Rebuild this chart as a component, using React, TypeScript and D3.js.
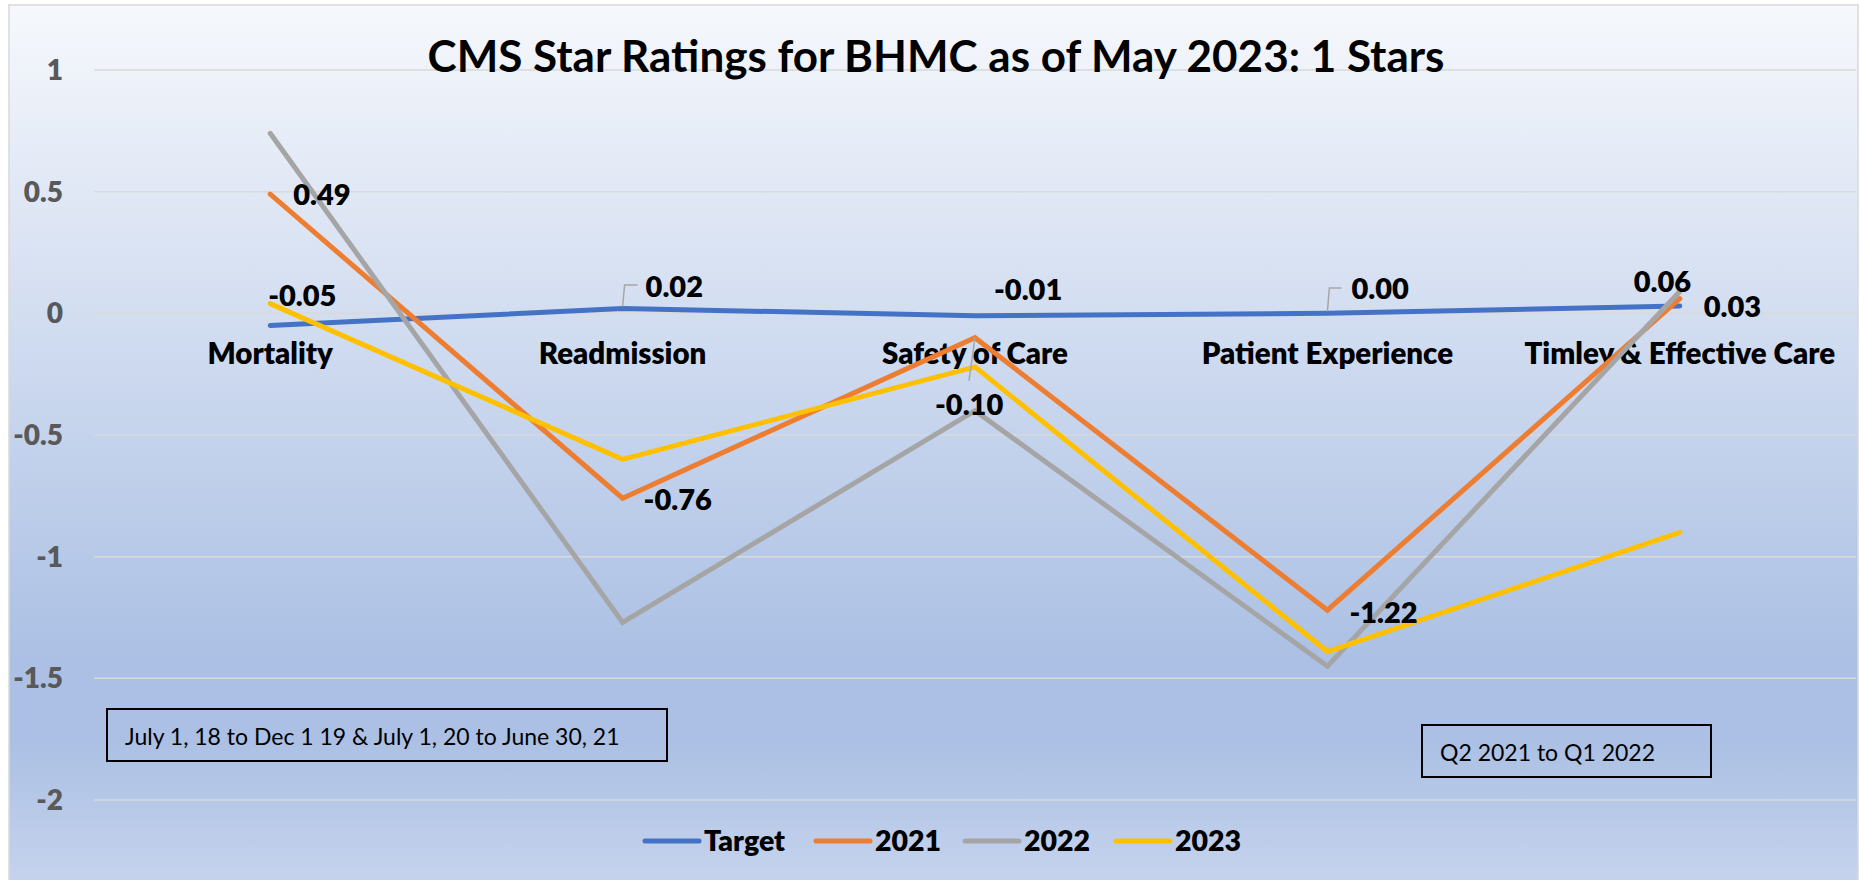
import { useRef, useEffect } from "react";
import * as d3 from "d3";

const categories = ["Mortality", "Readmission", "Safety of Care", "Patient Experience", "Timley & Effective Care"];
const seriesNames = ["Target", "2021", "2022", "2023"];
const target = [-0.05, 0.02, -0.01, 0.0, 0.03];
const y2021 = [0.49, -0.76, -0.1, -1.22, 0.06];
const y2022 = [0.74, -1.27, -0.4, -1.45, 0.09];
const y2023 = [0.04, -0.6, -0.22, -1.39, -0.9];
const yTicks = [1, 0.5, 0, -0.5, -1, -1.5, -2];
const periodNotes = ["July 1, 18 to Dec 1 19 & July 1, 20 to June 30, 21", "Q2 2021 to Q1 2022"];

const colors = ["#4472C4", "#ED7D31", "#A5A5A5", "#FFC000"];
const W = 1860;
const H = 880;
const FONT = "Lato, 'Open Sans', sans-serif";

// label offsets (dx, dy) from the point, for the series that show labels
const targetLabelPos = [[-2, -20], [23, -11], [19, -16], [24, -14], [24, 11]];
const y2021LabelPos = [[23, 11], [21, 12], [-40, 77], [22, 13], [-46, -7]];

export default function App() {
  const ref = useRef<SVGSVGElement>(null);

  useEffect(() => {
    const svg = d3.select(ref.current);
    svg.selectAll("*").remove();

    const x = d3.scalePoint<string>().domain(categories).range([94, 1856]).padding(0.5);
    const y = d3.scaleLinear().domain([-2, 1]).range([800, 70]);

    const defs = svg.append("defs");
    const grad = defs.append("linearGradient").attr("id", "bg").attr("x1", 0).attr("y1", 0).attr("x2", 0).attr("y2", 1);
    grad.append("stop").attr("offset", "0%").attr("stop-color", "#f6f8fc");
    grad.append("stop").attr("offset", "74%").attr("stop-color", "#abc0e4");
    grad.append("stop").attr("offset", "83%").attr("stop-color", "#abc0e4");
    grad.append("stop").attr("offset", "100%").attr("stop-color", "#c7d4ed");

    svg.append("rect").attr("x", 9).attr("y", 5).attr("width", 1849).attr("height", 885)
      .attr("fill", "url(#bg)").attr("stroke", "#d9d9d9").attr("stroke-width", 1.5);

    // gridlines + y labels
    svg.append("g").selectAll("line").data(yTicks).enter().append("line")
      .attr("x1", 94).attr("x2", 1856)
      .attr("y1", d => y(d)).attr("y2", d => y(d))
      .attr("stroke", "#d9d9d9").attr("stroke-width", 1.5);
    svg.append("g").selectAll("text").data(yTicks).enter().append("text")
      .attr("x", 63).attr("y", d => y(d)).attr("dy", "0.36em")
      .attr("text-anchor", "end").attr("font-family", FONT).attr("font-weight", 800)
      .attr("font-size", 28).attr("fill", "#595959")
      .text(d => String(d));

    // title
    svg.append("text").attr("x", 936).attr("y", 72).attr("text-anchor", "middle")
      .attr("font-family", FONT).attr("font-weight", 700).attr("font-size", 44).attr("fill", "#000")
      .text("CMS Star Ratings for BHMC as of May 2023: 1 Stars");

    // category labels
    svg.append("g").selectAll("text").data(categories).enter().append("text")
      .attr("x", d => x(d)!).attr("y", 364).attr("text-anchor", "middle")
      .attr("font-family", FONT).attr("font-weight", 800).attr("font-size", 29.5).attr("fill", "#000")
      .text(d => d);

    // lines, in Excel's series order (later ones on top)
    const all = [target, y2021, y2022, y2023];
    const line = d3.line<number>().x((_, i) => x(categories[i])!).y(d => y(d));
    all.forEach((s, k) => {
      svg.append("path").attr("d", line(s)!).attr("fill", "none")
        .attr("stroke", colors[k]).attr("stroke-width", 5)
        .attr("stroke-linecap", "round").attr("stroke-linejoin", "miter");
    });

    // leader lines
    const leader = d3.line<[number, number]>();
    const lg = svg.append("g").attr("fill", "none").attr("stroke", "#a6a6a6").attr("stroke-width", 1.5);
    lg.append("path").attr("d", leader([[x(categories[1])!, y(target[1]) - 2], [x(categories[1])! + 2, 285], [x(categories[1])! + 15, 285]])!);
    lg.append("path").attr("d", leader([[x(categories[3])!, y(target[3]) - 2], [x(categories[3])! + 2, 288], [x(categories[3])! + 14, 288]])!);
    lg.append("path").attr("d", leader([[x(categories[2])!, y(y2021[2])], [x(categories[2])! - 6, y(y2021[2]) + 43]])!);

    // data labels
    const addLabels = (vals: number[], pos: number[][]) => {
      svg.append("g").selectAll("text").data(vals).enter().append("text")
        .attr("x", (_, i) => x(categories[i])! + pos[i][0])
        .attr("y", (d, i) => y(d) + pos[i][1])
        .attr("font-family", FONT).attr("font-weight", 800).attr("font-size", 29).attr("fill", "#000")
        .text(d => d.toFixed(2));
    };
    addLabels(target, targetLabelPos);
    addLabels(y2021, y2021LabelPos);

    // notes boxes
    const boxes = [
      { x: 107, y: 709, w: 560, h: 52 },
      { x: 1422, y: 725, w: 289, h: 52 },
    ];
    boxes.forEach((b, i) => {
      svg.append("rect").attr("x", b.x).attr("y", b.y).attr("width", b.w).attr("height", b.h)
        .attr("fill", "none").attr("stroke", "#000").attr("stroke-width", 2);
      svg.append("text").attr("x", b.x + 18).attr("y", b.y + 36)
        .attr("font-family", FONT).attr("font-size", 23).attr("fill", "#000")
        .text(periodNotes[i]);
    });

    // legend
    const legendX = [645, 816, 965, 1116];
    seriesNames.forEach((name, k) => {
      const g = svg.append("g").attr("transform", `translate(${legendX[k]},841)`);
      g.append("line").attr("x1", 0).attr("x2", 54).attr("y1", 0).attr("y2", 0)
        .attr("stroke", colors[k]).attr("stroke-width", 5).attr("stroke-linecap", "round");
      g.append("text").attr("x", 59).attr("y", 10)
        .attr("font-family", FONT).attr("font-weight", 800).attr("font-size", 28.5).attr("fill", "#000")
        .text(name);
    });
  }, []);

  return (
    <svg ref={ref} width={W} height={H} style={{ position: "absolute", left: 0, top: 0 }} />
  );
}
